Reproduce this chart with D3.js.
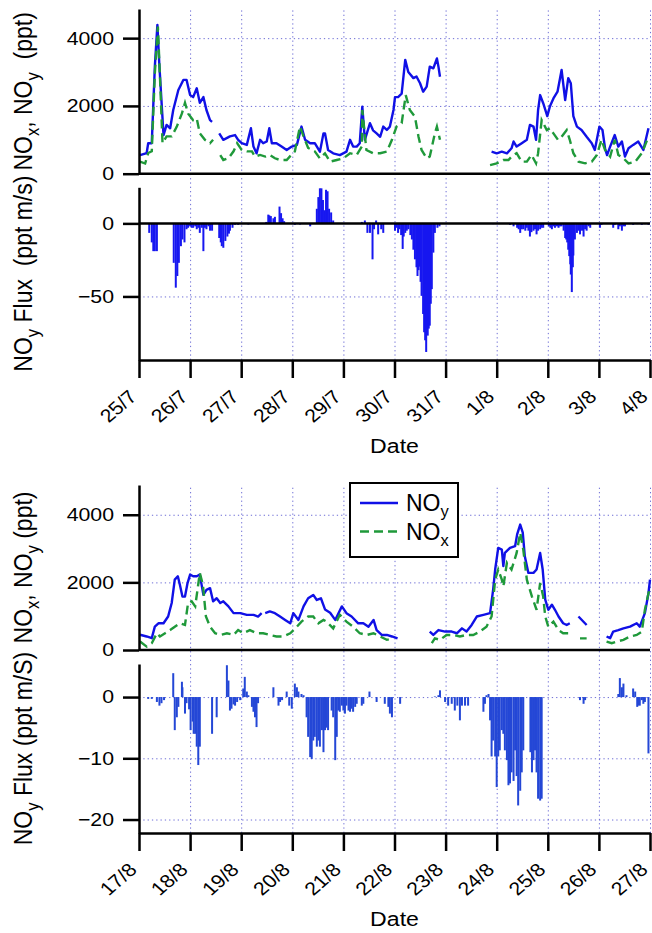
<!DOCTYPE html>
<html>
<head>
<meta charset="utf-8">
<script src="https://cdn.jsdelivr.net/npm/d3@7"></script>
<style>
  body { margin: 0; background: #fff; }
  svg { display: block; }
  text { font-family: Arial, "Liberation Sans", sans-serif; white-space: pre; }
</style>
</head>
<body>
<svg id="chart" width="652" height="933"></svg>
<script>
// ---- data: [day offset from start, value] ----
var julyStart = new Date(2013, 6, 25);
var augStart = new Date(2013, 7, 17);

var julyNOy = [[0.02,550],[0.15,610],[0.18,900],[0.25,900],[0.31,3160],[0.36,4390],[0.40,3160],[0.48,1140],[0.54,1440],[0.61,1340],[0.67,1880],[0.77,2470],[0.87,2770],[0.93,2770],[1.00,2320],[1.06,2260],[1.13,2520],[1.19,2090],[1.26,2260],[1.32,1880],[1.39,1580],[1.43,1530],[1.49,null],[1.57,1190],[1.65,1000],[1.78,1100],[1.88,1140],[1.94,1000],[2.01,900],[2.11,850],[2.19,1340],[2.24,800],[2.30,600],[2.37,1000],[2.43,900],[2.50,950],[2.55,1340],[2.60,900],[2.69,900],[2.79,800],[2.89,700],[2.99,800],[3.09,850],[3.18,1390],[3.25,1000],[3.35,900],[3.44,900],[3.54,650],[3.61,1190],[3.64,1190],[3.70,700],[3.80,600],[3.93,550],[4.06,650],[4.13,1000],[4.19,800],[4.26,800],[4.32,900],[4.37,1980],[4.42,1000],[4.52,1490],[4.58,1280],[4.65,1190],[4.72,1090],[4.78,1390],[4.85,1290],[4.91,1390],[4.98,1880],[5.01,2260],[5.07,2260],[5.14,2360],[5.21,3360],[5.27,3000],[5.37,2820],[5.43,2870],[5.50,2670],[5.56,2420],[5.63,2570],[5.69,3160],[5.76,3110],[5.83,3400],[5.86,3160],[5.89,2860],[6.40,null],[6.90,650],[7.00,600],[7.10,650],[7.20,600],[7.29,750],[7.33,950],[7.39,800],[7.49,900],[7.59,1000],[7.65,1440],[7.72,1390],[7.77,1000],[7.81,1880],[7.85,2320],[7.91,2080],[7.99,1700],[8.04,1980],[8.11,2220],[8.19,2420],[8.27,3060],[8.34,2170],[8.40,2820],[8.45,2670],[8.50,1700],[8.57,1390],[8.66,1290],[8.76,1090],[8.86,900],[8.92,700],[9.01,1390],[9.07,1290],[9.12,750],[9.16,550],[9.22,800],[9.31,1140],[9.38,800],[9.45,950],[9.51,505],[9.58,750],[9.67,850],[9.77,950],[9.87,700],[9.97,1340]];

var julyNOx = [[0.02,355],[0.12,300],[0.18,610],[0.25,660],[0.31,2960],[0.37,4340],[0.41,2860],[0.46,900],[0.54,1100],[0.64,1100],[0.74,1390],[0.84,1780],[0.90,2090],[0.96,1780],[1.06,1580],[1.13,1630],[1.19,1190],[1.29,1000],[1.39,900],[1.45,1000],[1.52,null],[1.59,550],[1.65,405],[1.75,455],[1.85,660],[1.92,900],[2.01,700],[2.11,660],[2.21,660],[2.27,505],[2.37,555],[2.47,505],[2.56,555],[2.66,455],[2.76,405],[2.89,405],[2.95,505],[3.05,660],[3.15,1390],[3.22,1100],[3.31,760],[3.44,660],[3.54,450],[3.64,600],[3.74,355],[3.87,405],[4.00,455],[4.13,605],[4.26,555],[4.36,800],[4.37,1880],[4.45,700],[4.58,605],[4.72,605],[4.85,655],[4.95,1000],[5.04,1390],[5.14,1490],[5.22,2320],[5.30,1880],[5.40,1680],[5.47,1090],[5.53,700],[5.63,455],[5.69,505],[5.79,1190],[5.83,1390],[5.89,1000],[6.40,null],[6.87,255],[7.00,305],[7.13,405],[7.23,405],[7.29,505],[7.39,605],[7.49,355],[7.59,355],[7.68,555],[7.77,305],[7.81,605],[7.88,1580],[7.98,1290],[8.04,1340],[8.11,1190],[8.20,1000],[8.27,1090],[8.37,1290],[8.43,1000],[8.50,605],[8.60,355],[8.73,305],[8.86,355],[8.96,555],[9.05,1000],[9.12,700],[9.22,505],[9.31,1000],[9.38,555],[9.48,455],[9.58,305],[9.71,355],[9.84,605],[9.97,1090]];

var julyFlux = [[0.20,-6.5],[0.25,-13],[0.28,-19],[0.31,-19],[0.35,-19],[0.68,-27],[0.72,-44],[0.75,-36],[0.78,-27],[0.82,-15.6],[0.85,-11],[0.89,-13],[0.93,-4],[0.96,-3],[1.00,-2],[1.03,-3],[1.06,-3],[1.10,-2],[1.13,-4],[1.16,-3],[1.19,-6.5],[1.23,-3],[1.26,-19],[1.29,-3],[1.32,-4],[1.36,-2],[1.39,-5],[1.43,-5],[1.57,-10],[1.60,-13],[1.62,-15.6],[1.65,-16.7],[1.69,-12],[1.73,-9],[1.76,-7],[1.78,-5],[1.83,-3],[1.88,-1],[1.94,-1],[2.14,-0.8],[2.49,1],[2.53,6],[2.55,5.5],[2.58,5],[2.63,3.5],[2.66,4.5],[2.75,11.5],[2.78,7],[2.81,3.5],[2.84,1.5],[3.05,-1],[3.15,-0.8],[3.35,-2],[3.48,10],[3.51,18],[3.54,24],[3.57,24],[3.60,16],[3.63,9],[3.66,23],[3.69,22],[3.72,10],[3.76,7.5],[3.80,2],[4.36,1],[4.42,2],[4.47,-6.5],[4.52,-6.5],[4.57,-24.6],[4.60,-4],[4.64,2],[4.68,-7.5],[4.74,-4],[4.78,-6.5],[5.01,-5],[5.04,-3],[5.07,-6.5],[5.10,-4],[5.13,-8],[5.16,-17.5],[5.18,-9],[5.21,-6.5],[5.24,-5],[5.27,-4],[5.31,-8],[5.34,-11],[5.37,-18],[5.40,-24.6],[5.43,-30],[5.45,-36],[5.47,-32],[5.49,-29.6],[5.51,-40],[5.53,-49.6],[5.56,-62],[5.58,-74.5],[5.60,-80],[5.62,-88],[5.65,-76.8],[5.67,-72],[5.69,-70],[5.71,-55],[5.73,-45],[5.76,-20],[5.79,-6.5],[5.84,-3],[5.88,-2],[6.93,-0.5],[7.26,-1],[7.33,-2],[7.40,-3],[7.43,-4],[7.46,-6.5],[7.49,-4],[7.52,-4],[7.56,-5],[7.59,-3],[7.62,-5],[7.65,-9],[7.68,-6],[7.72,-5],[7.75,-4],[7.78,-7.5],[7.81,-5],[7.85,-4],[7.88,-3],[7.91,-3],[8.02,-2],[8.05,-3],[8.08,-4],[8.11,-2],[8.14,-3],[8.18,-2],[8.21,-3],[8.24,-2],[8.27,-2],[8.31,-5],[8.34,-10],[8.36,-11],[8.38,-13],[8.40,-18],[8.42,-22.4],[8.44,-28],[8.45,-35],[8.47,-47],[8.49,-30],[8.50,-22],[8.53,-11],[8.57,-6.5],[8.60,-5],[8.63,-7.5],[8.67,-5],[8.70,-9],[8.73,-4],[8.76,-5],[8.80,-2],[8.83,-3],[9.02,-3],[9.05,-1],[9.28,-3],[9.31,-1],[9.38,-4],[9.41,-2],[9.45,-5],[9.48,-2],[9.51,-2],[9.67,-1],[9.75,-0.5],[9.84,-1],[9.90,-0.5],[9.97,-1]];

var augNOy = [[0.02,450],[0.15,400],[0.25,350],[0.31,690],[0.38,790],[0.48,790],[0.57,990],[0.64,1390],[0.70,2080],[0.76,2180],[0.80,1930],[0.85,1580],[0.90,1580],[0.95,1980],[1.00,2230],[1.06,2180],[1.13,2180],[1.19,2230],[1.26,1630],[1.32,1780],[1.39,1830],[1.45,1440],[1.52,1530],[1.59,1390],[1.65,1440],[1.75,1290],[1.85,1090],[1.98,1090],[2.11,1040],[2.24,1040],[2.33,990],[2.40,1090],[2.435,null],[2.47,1090],[2.56,1140],[2.66,1090],[2.76,990],[2.86,890],[2.96,790],[3.02,1090],[3.12,890],[3.22,1290],[3.31,1530],[3.41,1630],[3.48,1480],[3.56,1530],[3.64,1200],[3.74,1100],[3.84,890],[3.97,1290],[4.06,1090],[4.16,990],[4.29,790],[4.39,790],[4.49,690],[4.59,890],[4.65,590],[4.75,445],[4.85,445],[4.95,400],[5.06,345],[5.40,null],[5.69,545],[5.76,445],[5.86,590],[5.99,545],[6.12,545],[6.22,495],[6.32,640],[6.41,545],[6.51,740],[6.61,990],[6.74,1040],[6.87,1090],[6.93,1780],[6.97,2380],[7.03,3020],[7.10,2970],[7.13,2480],[7.16,2870],[7.26,3020],[7.36,3070],[7.40,3420],[7.46,3710],[7.51,3470],[7.55,2770],[7.62,2280],[7.72,2280],[7.78,2380],[7.85,2870],[7.90,2380],[7.95,1490],[8.01,1190],[8.08,1340],[8.14,1190],[8.21,990],[8.30,790],[8.37,740],[8.43,790],[8.52,null],[8.60,990],[8.76,740],[8.95,null],[9.15,400],[9.22,350],[9.28,545],[9.38,590],[9.48,640],[9.61,690],[9.74,790],[9.80,690],[9.90,1090],[9.97,1680],[10.0,2080]];

var augNOx = [[0.02,250],[0.15,100],[0.25,200],[0.35,495],[0.41,400],[0.51,495],[0.61,590],[0.70,690],[0.80,790],[0.90,740],[0.96,1390],[1.03,1440],[1.10,1290],[1.19,2280],[1.25,1930],[1.31,990],[1.39,690],[1.49,495],[1.59,445],[1.72,495],[1.85,445],[1.94,590],[2.04,495],[2.17,590],[2.30,495],[2.43,495],[2.56,445],[2.69,400],[2.82,400],[2.96,495],[3.09,690],[3.18,840],[3.31,990],[3.41,990],[3.51,790],[3.61,890],[3.67,840],[3.80,640],[3.93,1040],[4.06,840],[4.19,690],[4.32,495],[4.46,445],[4.59,495],[4.72,400],[4.85,300],[4.98,345],[5.40,null],[5.73,200],[5.79,345],[5.89,300],[6.02,445],[6.15,445],[6.28,400],[6.41,445],[6.54,445],[6.67,545],[6.80,690],[6.90,990],[6.97,2080],[7.03,2380],[7.10,2080],[7.13,1880],[7.20,2580],[7.29,2380],[7.39,2870],[7.46,3470],[7.52,2970],[7.59,2080],[7.69,1580],[7.78,1190],[7.85,1980],[7.91,1580],[7.95,990],[8.01,690],[8.11,840],[8.21,590],[8.30,495],[8.40,495],[8.52,null],[8.63,345],[8.76,345],[8.95,null],[9.15,250],[9.25,200],[9.35,250],[9.48,300],[9.61,400],[9.74,445],[9.84,545],[9.90,1190],[10.0,1880]];

var augFlux = [[0.18,-0.3],[0.25,-0.3],[0.35,-0.8],[0.40,-1.4],[0.44,-1],[0.49,-0.5],[0.67,3.9],[0.70,-5.4],[0.74,-3.3],[0.77,-1.6],[0.84,2.5],[0.85,1.6],[0.90,-2.7],[0.93,-1],[0.98,-2],[1.01,-5.4],[1.05,-4],[1.07,-6],[1.10,-6],[1.13,-8.1],[1.16,-11.1],[1.19,-8.1],[1.43,-6],[1.52,-3.3],[1.72,5.2],[1.75,2.7],[1.78,-2.2],[1.81,-1.9],[1.85,-1.2],[1.88,-1.4],[1.92,-0.8],[1.98,-0.5],[2.04,1.4],[2.07,3.3],[2.11,0.9],[2.14,0.3],[2.21,-1.6],[2.24,-2.4],[2.27,-3.3],[2.30,-4.9],[2.33,-1],[2.63,1.6],[2.73,-1.4],[2.76,-0.8],[2.80,-0.5],[2.89,0.9],[2.94,-1.4],[2.99,-1.9],[3.05,2.2],[3.09,1.6],[3.12,0.9],[3.18,0.5],[3.22,0.3],[3.28,-3.3],[3.31,-6.5],[3.35,-9.8],[3.38,-10.1],[3.41,-7.1],[3.44,-6.5],[3.48,-8.1],[3.51,-7.1],[3.54,-8.1],[3.58,-5.4],[3.61,-9.0],[3.64,-5.4],[3.67,-5],[3.70,-5.4],[3.77,-2.2],[3.80,-3.3],[3.84,-10.3],[3.87,-6.5],[3.90,-2.2],[3.93,-2.4],[3.97,-1.4],[4.00,-2.2],[4.03,-2.7],[4.06,-1.4],[4.10,-2.2],[4.13,-2.4],[4.16,-1.9],[4.19,-2.4],[4.23,-1.6],[4.26,-1.1],[4.36,-1.4],[4.39,-1.1],[4.51,0.9],[4.65,-0.8],[4.81,-1.1],[4.88,-1.6],[4.91,-2.7],[4.95,-3.3],[5.11,-1.1],[5.79,0.1],[5.86,0.3],[5.89,1.1],[5.99,-0.8],[6.05,-1.4],[6.12,-1.1],[6.18,-2.2],[6.23,-1.4],[6.28,-3.8],[6.32,-1.4],[6.38,-1.4],[6.44,-1.4],[6.74,-2.4],[6.77,-1.1],[6.80,0.3],[6.84,0.5],[6.87,-3.8],[6.90,-9.7],[6.93,-7.1],[6.97,-9.7],[7.00,-14.7],[7.03,-9.7],[7.06,-8.7],[7.10,-5.4],[7.13,-6],[7.16,-8.7],[7.20,-10.3],[7.23,-14.4],[7.26,-14.1],[7.29,-12.3],[7.33,-13.7],[7.36,-8.7],[7.39,-12.9],[7.42,-17.7],[7.46,-15.3],[7.49,-12.3],[7.52,-8.7],[7.66,-9],[7.69,-12.3],[7.72,-10.3],[7.75,-8.7],[7.78,-12.3],[7.81,-16.6],[7.85,-16.9],[7.88,-16.6],[8.63,-0.5],[8.70,-1.1],[8.73,-0.5],[9.38,0.5],[9.41,3.1],[9.45,1.6],[9.48,2.2],[9.54,0.3],[9.67,1.4],[9.71,0.9],[9.75,-1.6],[9.77,-1.4],[9.80,-1.4],[9.84,-0.5],[9.87,-1.1],[9.90,-0.8],[9.97,-9.2]];

// tick values and labels
var concTicks = [0, 2000, 4000];
var concGrid = [2000, 4000];
var julyFluxTicks = [0, -50];
var julyFluxGrid = [-50];
var augFluxTicks = [0, -10, -20];
var augFluxGrid = [0, -10, -20];
var julyConcLabel = [["NO"], ["x", 1], [", NO"], ["y", 1], ["  (ppt)"]];
var julyFluxLabel = [["NO"], ["y", 1], [" Flux  (ppt m/s)"]];
var augConcLabel = [["NO"], ["x", 1], [", NO"], ["y", 1], [" (ppt)"]];
var augFluxLabel = [["NO"], ["y", 1], [" Flux (ppt m/S)"]];
var legendItems = [["NO", "y"], ["NO", "x"]];

var blue = "#1010e6", green = "#1f993a", gridColor = "#6e6ed6";
var svg = d3.select("#chart");
var plotLeft = 139, plotRight = 650, stretch = 1.15;

function richText(sel, parts, size) {
  var wasSub = false;
  parts.forEach(function(p) {
    var t = sel.append("tspan").text(p[0]);
    if (p[1]) { t.attr("font-size", size * 0.72).attr("dy", size * 0.27); wasSub = true; }
    else if (wasSub) { t.attr("dy", -size * 0.27); wasSub = false; }
  });
}

function styleAxis(a) {
  a.selectAll("path, line").attr("stroke", "#000").attr("stroke-width", 2.5);
  a.selectAll("text").attr("fill", "#000").attr("font-size", 18.5)
    .attr("font-family", "Arial, 'Liberation Sans', sans-serif");
}

function drawChart(c) {
  var g = svg.append("g");
  var x = d3.scaleTime().domain([c.start, d3.timeDay.offset(c.start, 10)]).range([plotLeft, plotRight]);
  var yC = d3.scaleLinear().domain([0, c.concMax]).range(c.concRange);
  var yF = d3.scaleLinear().domain(c.fluxDomain).range(c.fluxRange);
  var toDate = function(t) { return new Date(c.start.getTime() + t * 864e5); };
  var top = c.concRange[1], bottom = c.fluxRange[0];

  // dotted grid
  g.append("g").attr("transform", `translate(0,${bottom})`)
    .call(d3.axisBottom(x).ticks(d3.timeDay.every(1)).tickSize(-(bottom - top)).tickFormat(""))
    .call(a => a.select(".domain").remove())
    .call(a => a.selectAll(".tick").filter((d, i) => i == 0).remove())
    .selectAll("line").attr("stroke", gridColor).attr("stroke-width", 1).attr("stroke-dasharray", "1.3,3");
  [[yC, c.concGrid], [yF, c.fluxGrid]].forEach(function(p) {
    g.append("g").attr("transform", `translate(${plotLeft},0)`)
      .call(d3.axisLeft(p[0]).tickValues(p[1]).tickSize(-(plotRight - plotLeft)).tickFormat(""))
      .call(a => a.select(".domain").remove())
      .selectAll("line").attr("stroke", gridColor).attr("stroke-width", 1).attr("stroke-dasharray", "1.3,3");
  });

  // flux bars
  g.append("g").selectAll("rect").data(c.flux).join("rect")
    .attr("x", d => x(toDate(d[0])) - 1)
    .attr("width", 2)
    .attr("y", d => Math.min(yF(d[1]), yF(0)))
    .attr("height", d => Math.abs(yF(d[1]) - yF(0)))
    .attr("fill", c.barColor);

  // concentration lines
  var line = d3.line().defined(d => d[1] != null)
    .x(d => x(toDate(d[0]))).y(d => yC(d[1]));
  g.append("path").datum(c.noy).attr("d", line).attr("fill", "none")
    .attr("stroke", blue).attr("stroke-width", 2.4).attr("stroke-linejoin", "round");
  g.append("path").datum(c.nox).attr("d", line).attr("fill", "none")
    .attr("stroke", green).attr("stroke-width", 2.4).attr("stroke-dasharray", "9,5");

  // axes
  [[yC, concTicks], [yF, c.fluxTicks]].forEach(function(p) {
    g.append("g").attr("transform", `translate(${plotLeft},0)`)
      .call(d3.axisLeft(p[0]).tickValues(p[1]).tickFormat(d3.format("d"))
        .tickSize(16).tickSizeOuter(0).tickPadding(9))
      .call(styleAxis)
      .selectAll(".tick text").attr("transform", `scale(${stretch},1)`).attr("x", -25 / stretch);
  });
  g.append("line").attr("x1", plotLeft).attr("x2", plotRight)
    .attr("y1", yC(0)).attr("y2", yC(0)).attr("stroke", "#000").attr("stroke-width", 2.5);
  if (c.solidZero) {
    g.append("line").attr("x1", plotLeft).attr("x2", plotRight)
      .attr("y1", yF(0)).attr("y2", yF(0)).attr("stroke", "#000").attr("stroke-width", 2.5);
  }
  g.append("g").attr("transform", `translate(0,${bottom})`)
    .call(d3.axisBottom(x).ticks(d3.timeDay.every(1)).tickFormat(d3.timeFormat("%-d/%-m"))
      .tickSize(18).tickSizeOuter(0))
    .call(styleAxis)
    .selectAll(".tick text").attr("text-anchor", "end").attr("x", 0).attr("y", 0).attr("dy", 0)
    .attr("transform", `translate(-1.5,38) scale(${stretch},1) rotate(-45)`);

  // axis titles
  g.append("text").attr("text-anchor", "middle").attr("font-size", 21)
    .attr("transform", `translate(${(plotLeft + plotRight) / 2},${bottom + 93}) scale(1.1,1)`)
    .text("Date");
  [[c.concLabel, (c.concRange[0] + top) / 2], [c.fluxLabel, (c.fluxRange[0] + c.fluxRange[1]) / 2]].forEach(function(p) {
    var t = g.append("text").attr("text-anchor", "middle").attr("font-size", 23)
      .attr("transform", `translate(32,${p[1]}) scale(${stretch},1) rotate(-90)`);
    richText(t, p[0], 23);
  });

  if (c.legend) {
    var lg = g.append("g");
    lg.append("rect").attr("x", 350).attr("y", 483).attr("width", 108).attr("height", 74)
      .attr("fill", "#fff").attr("stroke", "#000").attr("stroke-width", 2);
    legendItems.forEach(function(item, i) {
      var yy = 503 + i * 28.5;
      lg.append("line").attr("x1", 360).attr("x2", 398).attr("y1", yy).attr("y2", yy)
        .attr("stroke", i == 0 ? blue : green).attr("stroke-width", 2.4)
        .attr("stroke-dasharray", i == 0 ? null : "9,5");
      var t = lg.append("text").attr("x", 406).attr("y", yy + 8).attr("font-size", 23);
      richText(t, [[item[0]], [item[1], 1]], 23);
    });
  }
}

drawChart({
  start: julyStart, noy: julyNOy, nox: julyNOx, flux: julyFlux,
  concMax: 4860, concRange: [173.7, 9], concGrid: concGrid,
  fluxDomain: [-93.5, 24.7], fluxRange: [360, 187.3], fluxTicks: julyFluxTicks, fluxGrid: julyFluxGrid,
  solidZero: true, barColor: "#1717f0", concLabel: julyConcLabel, fluxLabel: julyFluxLabel, legend: false
});
drawChart({
  start: augStart, noy: augNOy, nox: augNOx, flux: augFlux,
  concMax: 4880, concRange: [650, 485], concGrid: concGrid,
  fluxDomain: [-22.2, 5.4], fluxRange: [833, 664], fluxTicks: augFluxTicks, fluxGrid: augFluxGrid,
  solidZero: false, barColor: "#2447d6", concLabel: augConcLabel, fluxLabel: augFluxLabel, legend: true
});
</script>
</body>
</html>
